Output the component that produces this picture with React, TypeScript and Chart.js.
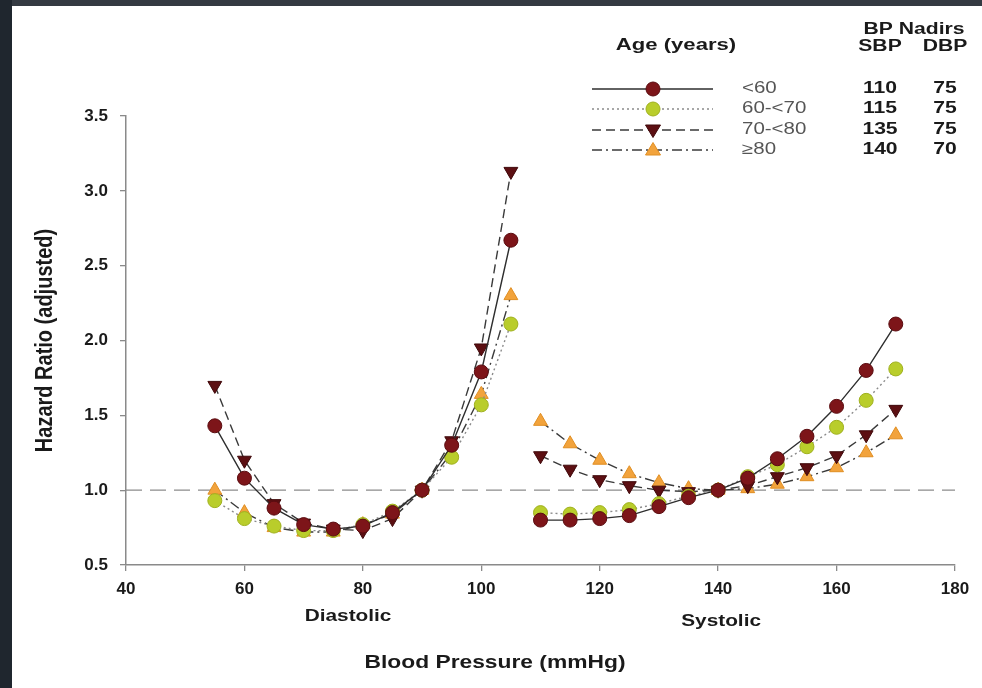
import React, { useEffect, useRef } from "react";
import { Chart, registerables } from "chart.js";

Chart.register(...registerables);

// ---- data ----
const diastolicBP = [55, 60, 65, 70, 75, 80, 85, 90, 95, 100, 105];
const systolicBP = [110, 115, 120, 125, 130, 135, 140, 145, 150, 155, 160, 165, 170];

const under60Dia = [1.43, 1.08, 0.88, 0.77, 0.74, 0.76, 0.85, 1.0, 1.3, 1.79, 2.67];
const under60Sys = [0.8, 0.8, 0.81, 0.83, 0.89, 0.95, 1.0, 1.08, 1.21, 1.36, 1.56, 1.8, 2.11];

const age60to70Dia = [0.93, 0.81, 0.76, 0.73, 0.73, 0.77, 0.86, 1.0, 1.22, 1.57, 2.11];
const age60to70Sys = [0.85, 0.84, 0.85, 0.87, 0.91, 0.96, 1.0, 1.09, 1.17, 1.29, 1.42, 1.6, 1.81];

const age70to80Dia = [1.7, 1.2, 0.91, 0.78, 0.74, 0.73, 0.81, 1.0, 1.33, 1.95, 3.13];
const age70to80Sys = [1.23, 1.14, 1.07, 1.03, 1.0, 0.99, 1.0, 1.03, 1.09, 1.15, 1.23, 1.37, 1.54];

const age80plusDia = [1.0, 0.85, 0.75, 0.72, 0.72, 0.77, 0.84, 1.0, 1.25, 1.64, 2.3];
const age80plusSys = [1.46, 1.31, 1.2, 1.11, 1.05, 1.01, 1.0, 1.01, 1.04, 1.09, 1.15, 1.25, 1.37];

const ageLabels = ["<60", "60-<70", "70-<80", "\u226580"];
const nadirSBP = ["110", "115", "135", "140"];
const nadirDBP = ["75", "75", "75", "70"];

const refX = [40, 180];
const refY = [1.0, 1.0];
const gapX = 107.5;

const xMin = 40, xMax = 180, xStep = 20;
const yMin = 0.5, yMax = 3.5, yStep = 0.5;

// ---- styles ----
const FONT = "'Liberation Sans', Arial, sans-serif";
const seriesStyles = [
  { fill: "#7d1519", border: "#5a0c10", line: "#2e2e2e", dash: [] as number[], shape: "circle", lw: 1.4 },
  { fill: "#b9cd2b", border: "#9fb01e", line: "#8a8a8a", dash: [2, 3], shape: "circle", lw: 1.4 },
  { fill: "#5c0f12", border: "#3f080a", line: "#3a3a3a", dash: [9, 5], shape: "down", lw: 1.4 },
  { fill: "#f2a33c", border: "#e08e22", line: "#3a3a3a", dash: [10, 4, 2, 4], shape: "up", lw: 1.4 },
];

function buildPoints(dia: number[], sys: number[]) {
  const pts: { x: number; y: number | null }[] = [];
  diastolicBP.forEach((x, i) => pts.push({ x, y: dia[i] }));
  pts.push({ x: gapX, y: null });
  systolicBP.forEach((x, i) => pts.push({ x, y: sys[i] }));
  return pts;
}

function drawMarker(ctx: CanvasRenderingContext2D, shape: string, x: number, y: number, fill: string, border: string) {
  ctx.save();
  ctx.setLineDash([]);
  ctx.fillStyle = fill;
  ctx.strokeStyle = border;
  ctx.lineWidth = 1;
  ctx.beginPath();
  if (shape === "circle") {
    ctx.arc(x, y, 7, 0, Math.PI * 2);
  } else if (shape === "down") {
    ctx.moveTo(x - 7.5, y - 5);
    ctx.lineTo(x + 7.5, y - 5);
    ctx.lineTo(x, y + 7.5);
    ctx.closePath();
  } else {
    ctx.moveTo(x - 7.5, y + 5);
    ctx.lineTo(x + 7.5, y + 5);
    ctx.lineTo(x, y - 7.5);
    ctx.closePath();
  }
  ctx.fill();
  ctx.stroke();
  ctx.restore();
}

function stretchText(
  ctx: CanvasRenderingContext2D,
  text: string,
  x: number,
  y: number,
  size: number,
  weight: string,
  color: string,
  align: CanvasTextAlign,
  sx: number
) {
  ctx.save();
  ctx.font = `${weight} ${size}px ${FONT}`;
  ctx.fillStyle = color;
  ctx.textAlign = align;
  ctx.textBaseline = "middle";
  ctx.translate(x, y);
  ctx.scale(sx, 1);
  ctx.fillText(text, 0, 0);
  ctx.restore();
}

const annotationPlugin = {
  id: "annotations",
  afterDraw(chart: any) {
    const ctx: CanvasRenderingContext2D = chart.ctx;
    const area = chart.chartArea;
    const xs = chart.scales.x;

    // y title (rotated)
    ctx.save();
    ctx.translate(45, (area.top + area.bottom) / 2);
    ctx.rotate(-Math.PI / 2);
    ctx.scale(1, 1.2);
    ctx.font = `bold 20px ${FONT}`;
    ctx.fillStyle = "#1a1a1a";
    ctx.textAlign = "center";
    ctx.textBaseline = "middle";
    ctx.fillText("Hazard Ratio (adjusted)", 0, 0);
    ctx.restore();

    // x title
    stretchText(ctx, "Blood Pressure (mmHg)", 495, 663, 19, "bold", "#1a1a1a", "center", 1.2);
    // section labels
    stretchText(ctx, "Diastolic", xs.getPixelForValue(77.5), 617, 16, "bold", "#1a1a1a", "center", 1.3);
    stretchText(ctx, "Systolic", xs.getPixelForValue(140.5), 622, 16, "bold", "#1a1a1a", "center", 1.3);

    // legend
    stretchText(ctx, "Age (years)", 676, 46, 16, "bold", "#1a1a1a", "center", 1.38);
    stretchText(ctx, "BP Nadirs", 914, 30, 16, "bold", "#1a1a1a", "center", 1.32);
    stretchText(ctx, "SBP", 880, 47, 16, "bold", "#1a1a1a", "center", 1.32);
    stretchText(ctx, "DBP", 945, 47, 16, "bold", "#1a1a1a", "center", 1.32);

    const rows = [89, 109, 130, 150];
    seriesStyles.forEach((s, i) => {
      const y = rows[i];
      ctx.save();
      ctx.strokeStyle = s.line;
      ctx.lineWidth = s.lw;
      ctx.setLineDash(s.dash);
      ctx.beginPath();
      ctx.moveTo(592, y);
      ctx.lineTo(713, y);
      ctx.stroke();
      ctx.restore();
      drawMarker(ctx, s.shape, 653, y, s.fill, s.border);
      stretchText(ctx, ageLabels[i], 742, y, 16, "normal", "#555555", "left", 1.28);
      stretchText(ctx, nadirSBP[i], 880, y, 16, "bold", "#1a1a1a", "center", 1.32);
      stretchText(ctx, nadirDBP[i], 945, y, 16, "bold", "#1a1a1a", "center", 1.32);
    });
  },
};

export default function App() {
  const ref = useRef<HTMLCanvasElement | null>(null);

  useEffect(() => {
    if (!ref.current) return;
    const series = [
      buildPoints(under60Dia, under60Sys),
      buildPoints(age60to70Dia, age60to70Sys),
      buildPoints(age70to80Dia, age70to80Sys),
      buildPoints(age80plusDia, age80plusSys),
    ];
    const datasets: any[] = [
      {
        label: "ref",
        data: refX.map((x, i) => ({ x, y: refY[i] })),
        borderColor: "#8c8c8c",
        borderWidth: 1.3,
        borderDash: [16, 8],
        pointRadius: 0,
        order: 10,
      },
    ];
    const names = ageLabels;
    [3, 2, 1, 0].forEach((i) => {
      const s = seriesStyles[i];
      datasets.push({
        label: names[i],
        data: series[i],
        borderColor: s.line,
        borderWidth: s.lw,
        borderDash: s.dash,
        spanGaps: false,
        pointStyle: s.shape === "circle" ? "circle" : "triangle",
        pointRotation: s.shape === "down" ? 180 : 0,
        pointRadius: s.shape === "circle" ? 7 : 8,
        pointBackgroundColor: s.fill,
        pointBorderColor: s.border,
        pointBorderWidth: 1,
        order: 1 + i,
      });
    });

    const chart = new Chart(ref.current, {
      type: "line",
      data: { datasets },
      options: {
        animation: false,
        responsive: false,
        events: [],
        layout: { padding: { left: 12, right: 27, top: 116, bottom: 0 } },
        plugins: { legend: { display: false }, tooltip: { enabled: false } },
        scales: {
          x: {
            type: "linear",
            min: xMin,
            max: xMax,
            ticks: {
              stepSize: xStep,
              color: "#1a1a1a",
              font: { family: FONT, size: 17, weight: "bold" },
              padding: 8,
              maxRotation: 0,
            },
            grid: { display: true, drawOnChartArea: false, drawTicks: true, tickLength: 6, color: "#8a8a8a", lineWidth: 1.3 },
            border: { display: true, color: "#8a8a8a", width: 1.5 },
            afterFit: (s: any) => {
              s.height = 123;
            },
          },
          y: {
            type: "linear",
            min: yMin,
            max: yMax,
            ticks: {
              stepSize: yStep,
              color: "#1a1a1a",
              font: { family: FONT, size: 17, weight: "bold" },
              padding: 12,
              callback: (v: any) => Number(v).toFixed(1),
            },
            grid: { display: true, drawOnChartArea: false, drawTicks: true, tickLength: 6, color: "#8a8a8a", lineWidth: 1.3 },
            border: { display: true, color: "#8a8a8a", width: 1.5 },
            afterFit: (s: any) => {
              s.width = 114;
            },
          },
        },
      } as any,
      plugins: [annotationPlugin],
    });
    return () => chart.destroy();
  }, []);

  return (
    <div style={{ position: "fixed", left: 0, top: 0, width: 982, height: 688, background: "#ffffff", overflow: "hidden" }}>
      <div style={{ position: "absolute", left: 0, top: 0, width: 982, height: 6, background: "#343a42" }} />
      <div style={{ position: "absolute", left: 0, top: 0, width: 12, height: 688, background: "#1f262e" }} />
      <canvas ref={ref} width={982} height={688} style={{ position: "absolute", left: 0, top: 0 }} />
    </div>
  );
}
